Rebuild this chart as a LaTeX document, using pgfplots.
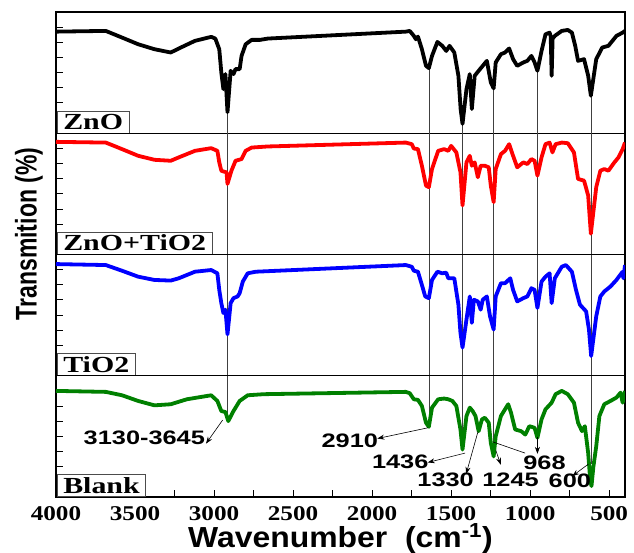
\documentclass[border=0pt]{standalone}
\usepackage{graphicx}
\usepackage{fontspec}
\setmainfont{Liberation Serif}
\setsansfont{Liberation Sans}
\newfontfamily\tickfont{Liberation Serif}[FakeStretch=1.2]
\newfontfamily\labfont{Liberation Serif}[FakeStretch=1.3]
\newfontfamily\annfont{Liberation Sans}[FakeStretch=1.3]
\newfontfamily\xlabfont{Liberation Sans}[FakeStretch=1.1]
\usepackage{pgfplots}
\pgfplotsset{compat=1.18}
\usetikzlibrary{arrows.meta}
\definecolor{cgreen}{RGB}{0,128,0}
\tikzset{
  guide/.style={draw=black!75, line width=0.6pt},
  ann/.style={font=\annfont\bfseries\fontsize{19.5}{19.5}\selectfont, inner sep=0pt},
  arr/.style={-{Stealth[length=7pt,width=5pt]}, line width=0.6pt},
  plab/.style={draw=black!70, line width=0.6pt, fill=white, anchor=south west, inner xsep=6pt, inner ysep=3pt, xshift=1pt, font=\labfont\bfseries\fontsize{23}{23}\selectfont},
}
\pgfplotsset{
  panel/.style={
    width=569pt, height=121.25pt, scale only axis,
    anchor=north west,
    x dir=reverse, xmin=400, xmax=4000,
    ymin=0, ymax=1,
    axis line style={line width=1.4pt},
    xtick=\empty,
    ytick={0,0.125,...,1}, yticklabels={},
    ytick pos=left, tick align=inside,
    major tick length=7pt, minor tick length=7pt,
    tick style={line width=1pt, black},
    every axis plot/.append style={line width=3.8pt, line join=round, no markers},
  },
}
\begin{document}
\begin{tikzpicture}
\path[use as bounding box] (-56pt,-541pt) rectangle (578pt,12pt);
% ---------- ZnO ----------
\begin{axis}[panel, at={(0pt,0pt)}]
\draw[guide] (axis cs:2915,0.17) -- (axis cs:2915,0);
\draw[guide] (axis cs:1641,0.54) -- (axis cs:1641,0);
\draw[guide] (axis cs:1428,0.08) -- (axis cs:1428,0);
\draw[guide] (axis cs:1231,0.37) -- (axis cs:1231,0);
\draw[guide] (axis cs:954,0.52) -- (axis cs:954,0);
\draw[guide] (axis cs:616,0.31) -- (axis cs:616,0);
\addplot[black] coordinates {
(4000,0.838)(3685,0.844)(3582,0.789)(3480,0.734)(3377,0.693)(3274,0.666)(3223,0.699)(3121,0.762)(3018,0.795)(2992,0.781)(2967,0.693)(2954,0.501)(2941,0.364)(2928,0.488)(2915,0.173)(2895,0.515)(2877,0.488)(2864,0.529)(2838,0.529)(2826,0.638)(2800,0.734)(2762,0.770)(2710,0.770)(2659,0.781)(1787,0.838)(1762,0.844)(1736,0.803)(1723,0.775)(1710,0.797)(1685,0.693)(1659,0.556)(1641,0.537)(1621,0.638)(1587,0.753)(1556,0.721)(1531,0.679)(1510,0.721)(1480,0.666)(1454,0.474)(1440,0.2)(1428,0.077)(1403,0.364)(1382,0.488)(1369,0.2)(1351,0.474)(1326,0.515)(1300,0.556)(1274,0.597)(1249,0.419)(1231,0.37)(1218,0.584)(1185,0.652)(1159,0.666)(1133,0.699)(1108,0.611)(1082,0.556)(1043,0.584)(1018,0.597)(992,0.638)(972,0.584)(954,0.515)(928,0.679)(903,0.816)(877,0.830)(870,0.80)(864,0.474)(858,0.78)(844,0.803)(800,0.844)(762,0.852)(736,0.830)(715,0.721)(697,0.597)(659,0.611)(633,0.474)(616,0.31)(582,0.611)(544,0.707)(505,0.721)(454,0.803)(415,0.830)(400,0.844)
};
\node[plab] at (rel axis cs:0,0) {ZnO};
\end{axis}
% ---------- ZnO+TiO2 ----------
\begin{axis}[panel, at={(0pt,-121.25pt)}]
\draw[guide] (axis cs:2915,0) -- (axis cs:2915,1);
\draw[guide] (axis cs:1641,0) -- (axis cs:1641,1);
\draw[guide] (axis cs:1428,0) -- (axis cs:1428,1);
\draw[guide] (axis cs:1231,0) -- (axis cs:1231,1);
\draw[guide] (axis cs:954,0) -- (axis cs:954,1);
\draw[guide] (axis cs:616,0) -- (axis cs:616,1);
\addplot[red] coordinates {
(4000,0.929)(3685,0.923)(3582,0.869)(3480,0.814)(3377,0.781)(3274,0.773)(3223,0.801)(3121,0.855)(3018,0.877)(2979,0.855)(2967,0.760)(2954,0.691)(2936,0.683)(2921,0.678)(2915,0.582)(2890,0.691)(2864,0.773)(2826,0.787)(2800,0.855)(2762,0.882)(2659,0.891)(1787,0.923)(1749,0.910)(1736,0.874)(1710,0.869)(1685,0.732)(1659,0.568)(1641,0.555)(1621,0.705)(1582,0.855)(1544,0.869)(1518,0.855)(1500,0.896)(1467,0.842)(1441,0.678)(1428,0.404)(1403,0.760)(1382,0.814)(1369,0.732)(1351,0.760)(1331,0.637)(1313,0.732)(1287,0.732)(1262,0.719)(1249,0.568)(1231,0.432)(1218,0.705)(1185,0.828)(1159,0.855)(1133,0.910)(1108,0.814)(1082,0.719)(1043,0.760)(1018,0.746)(992,0.787)(972,0.773)(954,0.650)(928,0.801)(903,0.910)(877,0.923)(859,0.842)(839,0.910)(800,0.923)(762,0.918)(723,0.842)(697,0.623)(659,0.609)(633,0.486)(616,0.172)(582,0.555)(556,0.691)(531,0.705)(505,0.691)(467,0.760)(441,0.801)(415,0.869)(400,0.923)
};
\node[plab] at (rel axis cs:0,0) {ZnO+TiO2};
\end{axis}
% ---------- TiO2 ----------
\begin{axis}[panel, at={(0pt,-242.5pt)}]
\draw[guide] (axis cs:2915,0) -- (axis cs:2915,1);
\draw[guide] (axis cs:1641,0) -- (axis cs:1641,1);
\draw[guide] (axis cs:1428,0) -- (axis cs:1428,1);
\draw[guide] (axis cs:1231,0) -- (axis cs:1231,1);
\draw[guide] (axis cs:954,0) -- (axis cs:954,1);
\draw[guide] (axis cs:616,0) -- (axis cs:616,1);
\addplot[blue] coordinates {
(4000,0.921)(3685,0.913)(3582,0.866)(3480,0.817)(3377,0.790)(3274,0.785)(3223,0.804)(3121,0.858)(3018,0.872)(2979,0.845)(2967,0.708)(2954,0.599)(2941,0.518)(2928,0.545)(2915,0.341)(2895,0.599)(2877,0.640)(2851,0.654)(2838,0.681)(2818,0.777)(2787,0.845)(2736,0.858)(1787,0.913)(1749,0.899)(1736,0.866)(1710,0.858)(1685,0.749)(1664,0.654)(1641,0.640)(1621,0.790)(1587,0.858)(1556,0.845)(1531,0.850)(1518,0.804)(1480,0.804)(1454,0.586)(1441,0.354)(1428,0.232)(1403,0.463)(1382,0.654)(1369,0.436)(1356,0.627)(1331,0.613)(1313,0.545)(1300,0.627)(1274,0.654)(1254,0.490)(1231,0.381)(1218,0.654)(1185,0.763)(1159,0.763)(1126,0.804)(1108,0.708)(1082,0.613)(1043,0.640)(1018,0.654)(992,0.722)(972,0.708)(954,0.559)(928,0.777)(903,0.817)(877,0.845)(864,0.599)(844,0.804)(800,0.899)(774,0.913)(736,0.858)(710,0.708)(685,0.586)(646,0.531)(628,0.381)(614,0.163)(582,0.490)(556,0.654)(531,0.695)(492,0.736)(454,0.790)(415,0.858)(410,0.804)(400,0.913)
};
\node[plab] at (rel axis cs:0,0) {TiO2};
\end{axis}
% ---------- Blank ----------
\begin{axis}[panel, at={(0pt,-363.75pt)},
  xtick={500,1000,...,4000}, minor xtick={750,1250,...,3750},
  xtick pos=left,
  xticklabel style={font=\tickfont\bfseries\fontsize{21}{21}\selectfont, anchor=base, yshift=-23pt},
  /pgf/number format/assume math mode=true,
  /pgf/number format/1000 sep={},
]
\draw[guide] (axis cs:2915,1) -- (axis cs:2915,0.63);
\draw[guide] (axis cs:1641,1) -- (axis cs:1641,0.58);
\draw[guide] (axis cs:1428,1) -- (axis cs:1428,0.50);
\draw[guide] (axis cs:1231,1) -- (axis cs:1231,0.45);
\draw[guide] (axis cs:954,1) -- (axis cs:954,0.50);
\draw[guide] (axis cs:616,1) -- (axis cs:616,0.27);
\addplot[cgreen] coordinates {
(4000,0.875)(3685,0.867)(3582,0.839)(3480,0.792)(3377,0.756)(3274,0.765)(3172,0.806)(3018,0.839)(2979,0.792)(2954,0.709)(2928,0.701)(2910,0.626)(2877,0.709)(2838,0.792)(2787,0.839)(2685,0.848)(1787,0.867)(1762,0.856)(1736,0.806)(1710,0.801)(1685,0.751)(1659,0.612)(1641,0.579)(1621,0.737)(1582,0.806)(1544,0.812)(1518,0.806)(1492,0.792)(1467,0.751)(1441,0.557)(1428,0.391)(1403,0.668)(1382,0.737)(1364,0.709)(1346,0.668)(1326,0.543)(1305,0.640)(1287,0.654)(1262,0.612)(1249,0.446)(1231,0.335)(1218,0.501)(1185,0.668)(1159,0.723)(1139,0.765)(1121,0.695)(1095,0.557)(1057,0.543)(1031,0.515)(1005,0.584)(972,0.571)(954,0.488)(928,0.640)(903,0.723)(864,0.778)(839,0.848)(800,0.875)(762,0.848)(723,0.778)(697,0.612)(672,0.543)(654,0.584)(633,0.363)(620,0.14)(612,0.09)(600,0.25)(582,0.418)(562,0.668)(531,0.765)(492,0.792)(454,0.820)(428,0.861)(415,0.778)(403,0.848)(400,0.875)
};
\node[plab] at (rel axis cs:0,0) {Blank};
\node[ann] at (axis cs:3441,0.488) {3130-3645};
\draw[arr] (axis cs:2946,0.634) -- (axis cs:3051,0.44);
\node[ann] at (axis cs:2141,0.46) {2910};
\draw[arr] (axis cs:1646,0.571) -- (axis cs:1967,0.482);
\node[ann] at (axis cs:1822,0.29) {1436};
\draw[arr] (axis cs:1412,0.362) -- (axis cs:1648,0.285);
\node[ann] at (axis cs:1535,0.144) {1330};
\draw[arr] (axis cs:1330,0.54) -- (axis cs:1405,0.19);
\node[ann] at (axis cs:1124,0.144) {1245};
\draw[arr] (axis cs:1217,0.384) -- (axis cs:1186,0.266);
\draw[line width=0.6pt] (axis cs:1237,0.455) -- (axis cs:1032,0.362);
\node[ann] at (axis cs:909,0.285) {968};
\draw[arr] (axis cs:954,0.497) -- (axis cs:954,0.356);
\node[ann] at (axis cs:749,0.13) {600};
\draw[arr] (axis cs:632,0.271) -- (axis cs:734,0.172);
\end{axis}
\node[anchor=base, font=\xlabfont\bfseries\fontsize{29}{29}\selectfont] at (284.5pt,-535pt) {Wavenumber\ \ (cm\textsuperscript{-1})};
\node[rotate=90] at (-27pt,-222pt) {\scalebox{1}[1.3]{\sffamily\bfseries\fontsize{23}{23}\selectfont Transmition (\%)}};
\end{tikzpicture}
\end{document}
